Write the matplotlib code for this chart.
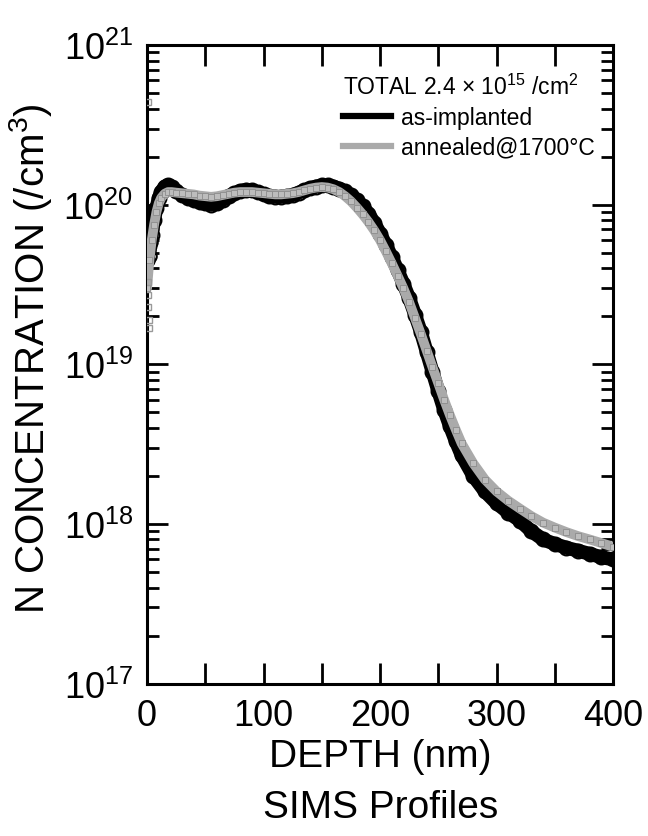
# SIMS depth profiles of implanted N, as-implanted vs annealed
import matplotlib
matplotlib.use("Agg")
import matplotlib.pyplot as plt
from matplotlib.lines import Line2D

plt.rcParams['font.family'] = ['Liberation Sans', 'DejaVu Sans']
plt.rcParams['mathtext.fontset'] = 'custom'
plt.rcParams['mathtext.rm'] = 'Liberation Sans'
plt.rcParams['mathtext.it'] = 'Liberation Sans:italic'
plt.rcParams['mathtext.bf'] = 'Liberation Sans:bold'
plt.rcParams['mathtext.default'] = 'regular'

# depth in nm
depth = [0, 2, 4, 6, 8, 10, 12, 15, 18, 21, 25, 30, 35, 40, 45, 50, 55, 60, 65, 70,
         75, 80, 85, 90, 95, 100, 105, 110, 115, 120, 125, 130, 135, 140, 145, 150,
         155, 160, 165, 170, 175, 180, 185, 190, 195, 200, 205, 210, 215, 220, 225,
         230, 235, 240, 245, 250, 255, 260, 265, 270, 280, 290, 300, 310, 320, 330,
         340, 350, 360, 370, 380, 390, 400]

# as-implanted concentration (/cm3)
conc_implanted = [5.0e19, 5.5e19, 6.5e19, 8.0e19, 9.5e19, 1.1e20, 1.2e20, 1.3e20, 1.33e20,
                  1.3e20, 1.22e20, 1.15e20, 1.1e20, 1.07e20, 1.04e20, 1.02e20, 1.0e20,
                  1.02e20, 1.07e20, 1.13e20, 1.18e20, 1.22e20, 1.24e20, 1.23e20, 1.2e20,
                  1.16e20, 1.13e20, 1.12e20, 1.12e20, 1.13e20, 1.15e20, 1.19e20, 1.23e20,
                  1.27e20, 1.3e20, 1.32e20, 1.32e20, 1.3e20, 1.26e20, 1.21e20, 1.15e20,
                  1.07e20, 9.8e19, 8.8e19, 7.7e19, 6.6e19, 5.6e19, 4.7e19, 3.9e19, 3.2e19,
                  2.6e19, 2.05e19, 1.6e19, 1.2e19, 9.0e18, 6.8e18, 5.2e18, 4.1e18, 3.3e18,
                  2.7e18, 2.0e18, 1.6e18, 1.35e18, 1.18e18, 1.05e18, 9.0e17, 8.0e17,
                  7.5e17, 7.1e17, 6.8e17, 6.5e17, 6.2e17, 6.0e17]

# annealed @1700C concentration (/cm3)
conc_annealed = [3.0e19, 4.5e19, 6.0e19, 7.5e19, 9.0e19, 1.02e20, 1.1e20, 1.17e20, 1.2e20,
                 1.2e20, 1.19e20, 1.18e20, 1.17e20, 1.16e20, 1.14e20, 1.13e20, 1.12e20,
                 1.13e20, 1.15e20, 1.17e20, 1.19e20, 1.2e20, 1.2e20, 1.2e20, 1.19e20,
                 1.18e20, 1.17e20, 1.16e20, 1.16e20, 1.17e20, 1.18e20, 1.2e20, 1.23e20,
                 1.26e20, 1.28e20, 1.29e20, 1.28e20, 1.25e20, 1.2e20, 1.13e20, 1.05e20,
                 9.6e19, 8.7e19, 7.8e19, 6.9e19, 6.0e19, 5.1e19, 4.3e19, 3.6e19, 3.0e19,
                 2.45e19, 1.95e19, 1.55e19, 1.22e19, 9.6e18, 7.6e18, 6.0e18, 4.8e18, 3.9e18,
                 3.2e18, 2.4e18, 1.9e18, 1.6e18, 1.4e18, 1.25e18, 1.12e18, 1.02e18,
                 9.5e17, 8.9e17, 8.4e17, 8.0e17, 7.6e17, 7.2e17]

# scattered surface points
surf_depth_imp = [0.5, 1, 1.5, 2, 2.5, 3]
surf_conc_imp = [6e19, 4.5e19, 5.2e19, 7e19, 4.8e19, 5.8e19]
surf_depth_ann = [0.5, 1, 1, 1.5, 2, 0.5]
surf_conc_ann = [4.4e20, 3.3e19, 2.3e19, 1.9e19, 1.7e19, 2.7e19]

fig = plt.figure(figsize=(6.48, 8.37), dpi=100)
ax = fig.add_axes([0.227, 0.182, 0.719, 0.763])

# as-implanted: thick black band with open circles
ax.semilogy(depth, conc_implanted, color='black', lw=10, solid_capstyle='round',
            marker='o', ms=10, mfc='none', mec='black', mew=1.5, zorder=2)
ax.plot(surf_depth_imp, surf_conc_imp, 'o', ms=9, mfc='none', mec='black', mew=1.5, zorder=2)

# annealed: grey band with small squares
ax.plot(depth, conc_annealed, color='#aaaaaa', lw=7, solid_capstyle='round',
        marker='s', ms=4, mfc='#bdbdbd', mec='#8c8c8c', mew=0.6, zorder=3)
ax.plot(surf_depth_ann, surf_conc_ann, 's', ms=4, mfc='none', mec='#999999', mew=1, zorder=3)

ax.set_xlim(0, 400)
ax.set_ylim(1e17, 1e21)

xt = list(range(0, 401, 50))
ax.set_xticks(xt)
ax.set_xticklabels([str(v) if v % 100 == 0 else '' for v in xt])

ax.tick_params(which='both', direction='in', top=True, right=True, width=2)
ax.tick_params(which='major', length=15, labelsize=26)
ax.tick_params(axis='x', which='major', pad=10)
ax.tick_params(axis='y', which='major', pad=10)
ax.tick_params(which='minor', length=8.5)
for s in ax.spines.values():
    s.set_linewidth(2.2)

ax.set_xlabel('DEPTH (nm)', fontsize=28, labelpad=4)
ax.set_ylabel('N CONCENTRATION (/cm$^3$)', fontsize=29)
ax.yaxis.set_label_coords(-0.2, 0.51)

# legend
handles = [Line2D([], [], color='black', lw=4.5),
           Line2D([], [], color='#aaaaaa', lw=4.5)]
leg = ax.legend(handles, ['as-implanted', 'annealed@1700°C'],
                title='TOTAL 2.4 × 10$^{15}$ /cm$^2$', title_fontsize=16.5,
                fontsize=16.5, loc='upper left', bbox_to_anchor=(0.42, 0.955),
                frameon=False, handlelength=2.1, handletextpad=0.45,
                labelspacing=0.3, borderpad=0, borderaxespad=0, alignment='left')

fig.text(0.587, 0.035, 'SIMS Profiles', fontsize=28, ha='center', va='center')

fig.savefig('out.png', dpi=100)
